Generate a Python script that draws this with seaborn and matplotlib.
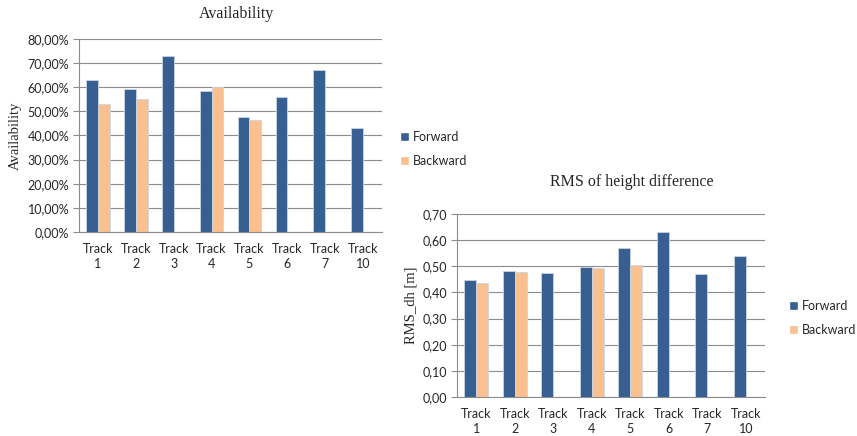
import pandas as pd
import numpy as np
import seaborn as sns
import matplotlib.pyplot as plt
from matplotlib.patches import Patch
from matplotlib.ticker import FuncFormatter, MultipleLocator

# Data
tracks = ["Track\n1", "Track\n2", "Track\n3", "Track\n4", "Track\n5", "Track\n6", "Track\n7", "Track\n10"]
avail_forward = [63.1, 59.3, 73.0, 58.3, 47.8, 56.0, 67.0, 43.0]
avail_backward = [53.0, 55.2, np.nan, 60.2, 46.3, np.nan, np.nan, np.nan]
rms_forward = [0.447, 0.483, 0.475, 0.499, 0.571, 0.630, 0.469, 0.539]
rms_backward = [0.436, 0.480, np.nan, 0.494, 0.504, np.nan, np.nan, np.nan]
directions = ["Forward", "Backward"]

blue = "#375F91"
orange = "#FAC090"
grid_c = "#8C8C8C"

def long_table(fwd, bwd):
    return pd.DataFrame({
        "track": tracks * 2,
        "direction": ["Forward"] * len(tracks) + ["Backward"] * len(tracks),
        "value": list(fwd) + list(bwd),
    })

sns.set_style("white")
plt.rcParams["font.family"] = ["Lato", "DejaVu Sans"]

fig = plt.figure(figsize=(8.57, 4.36), dpi=100)
ax1 = fig.add_axes([79 / 857, 1 - 232 / 436, 303 / 857, 193 / 436])
ax2 = fig.add_axes([457 / 857, 1 - 397 / 436, 308 / 857, 183 / 436])

panels = [
    (ax1, long_table(avail_forward, avail_backward), (0, 80), 10,
     lambda v, p: f"{v:.2f}%".replace(".", ","), "Availability"),
    (ax2, long_table(rms_forward, rms_backward), (0, 0.70), 0.10,
     lambda v, p: f"{v:.2f}".replace(".", ","), "RMS_dh [m]"),
]

for ax, df, ylim, step, fmt, ylab in panels:
    sns.barplot(data=df, x="track", y="value", hue="direction", hue_order=directions,
                order=tracks, palette=[blue, orange], saturation=1, width=0.62, ax=ax,
                edgecolor="#C9D5E4", linewidth=0.6, legend=False, errorbar=None)
    ax.set_ylim(*ylim)
    ax.set_xlim(-0.5, len(tracks) - 0.5)
    ax.yaxis.set_major_locator(MultipleLocator(step))
    ax.yaxis.set_major_formatter(FuncFormatter(fmt))
    ax.grid(axis="y", color=grid_c, linewidth=0.8)
    ax.set_axisbelow(True)
    for s in ["top", "right"]:
        ax.spines[s].set_visible(False)
    for s in ["left", "bottom"]:
        ax.spines[s].set_color(grid_c)
        ax.spines[s].set_linewidth(0.8)
    ax.tick_params(axis="y", length=4, color=grid_c, labelsize=9, pad=3, direction="out", left=True)
    ax.tick_params(axis="x", length=0, labelsize=9, pad=8)
    for lbl in ax.get_xticklabels():
        lbl.set_linespacing(1.3)
    ax.set_xlabel("")
    ax.set_ylabel(ylab, family="Liberation Serif", fontsize=10.5, labelpad=4)

fig.text(236 / 857, 1 - 14 / 436, "Availability", family="Liberation Serif",
         fontsize=11.5, ha="center", va="center")
fig.text(632 / 857, 1 - 182 / 436, "RMS of height difference", family="Liberation Serif",
         fontsize=11.5, ha="center", va="center")

handles = [Patch(facecolor=blue), Patch(facecolor=orange)]
for x, y in [(400, 131), (789, 300)]:
    fig.legend(handles, directions, loc="upper left", bbox_to_anchor=(x / 857, 1 - y / 436),
               frameon=False, fontsize=9, handlelength=0.7, handleheight=0.7,
               handletextpad=0.3, labelspacing=0.95, borderaxespad=0, borderpad=0)

fig.savefig("out.png", dpi=100)
